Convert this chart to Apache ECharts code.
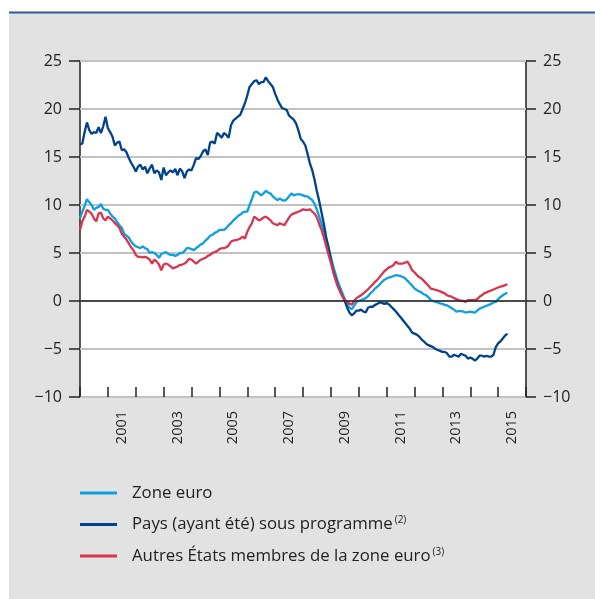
<!DOCTYPE html>
<html>
<head>
<meta charset="utf-8">
<script src="https://cdn.jsdelivr.net/npm/echarts@6/dist/echarts.min.js"></script>
<style>
  html, body { margin: 0; padding: 0; background: #fff; }
  #chart { width: 595px; height: 599px; }
</style>
</head>
<body>
<div id="chart"></div>
<script>
// Années affichées sur l'axe des abscisses
const years = ['2000', '2001', '2002', '2003', '2004', '2005', '2006', '2007',
    '2008', '2009', '2010', '2011', '2012', '2013', '2014', '2015'];

// Séries mensuelles, de janvier 2000 à mai 2015
const zoneEuro = [
    8.6, 9.3, 9.9, 10.6, 10.3, 10.0, 9.5, 9.7, 9.8, 10.1, 9.6, 9.5,
    9.5, 9.1, 8.8, 8.6, 8.2, 7.9, 7.6, 7.0, 6.8, 6.6, 6.2, 5.9,
    5.7, 5.6, 5.5, 5.7, 5.5, 5.4, 5.0, 5.1, 5.0, 4.8, 4.5, 4.9,
    5.0, 5.1, 4.9, 4.8, 4.8, 4.7, 4.8, 5.0, 5.0, 5.2, 5.5, 5.5,
    5.4, 5.3, 5.5, 5.7, 5.9, 6.0, 6.3, 6.5, 6.8, 6.9, 7.1, 7.2,
    7.4, 7.4, 7.4, 7.6, 7.9, 8.1, 8.4, 8.6, 8.85, 9.0, 9.2, 9.3,
    9.3, 10.0, 10.6, 11.3, 11.4, 11.2, 11.0, 11.2, 11.5, 11.3, 11.2, 10.9,
    10.7, 10.5, 10.7, 10.5, 10.45, 10.6, 10.9, 11.2, 11.0, 11.1, 11.1, 11.1,
    11.0, 10.9, 10.9, 10.7, 10.5, 10.1, 9.5, 8.8, 8.0, 7.3, 6.4, 5.5,
    4.6, 3.6, 2.8, 2.0, 1.4, 0.8, 0.2, -0.3, -0.7, -0.85, -0.5, -0.1,
    0.0, 0.1, 0.2, 0.3, 0.5, 0.8, 1.0, 1.3, 1.5, 1.7, 2.0, 2.2,
    2.35, 2.45, 2.5, 2.6, 2.7, 2.65, 2.6, 2.5, 2.35, 2.1, 1.85, 1.6,
    1.3, 1.15, 1.0, 0.9, 0.7, 0.6, 0.4, 0.1, 0.0, -0.1, -0.15, -0.25,
    -0.3, -0.4, -0.45, -0.6, -0.75, -0.9, -1.1, -1.05, -1.05, -1.1, -1.2, -1.15,
    -1.1, -1.15, -1.2, -1.0, -0.8, -0.7, -0.6, -0.5, -0.4, -0.3, -0.15, -0.1,
    0.2, 0.4, 0.6, 0.75, 0.85
];

const paysProgramme = [
    16.3, 16.4, 17.6, 18.6, 17.8, 17.4, 17.6, 17.5, 18.1, 17.5, 18.2, 19.2,
    18.0, 17.6, 17.1, 16.2, 16.5, 16.6, 15.7, 15.8, 15.5, 14.9, 14.4, 14.0,
    13.5, 14.0, 14.2, 13.7, 14.0, 13.3, 13.8, 14.2, 13.3, 13.6, 13.4, 12.6,
    13.9, 13.1, 13.4, 13.6, 13.4, 13.75, 13.1, 13.8, 13.5, 12.8, 13.5, 13.7,
    13.6, 14.2, 14.9, 14.8, 15.1, 15.6, 15.8, 15.2, 16.5, 16.6, 16.4, 17.5,
    17.3, 17.0, 17.5, 17.3, 17.0, 18.3, 18.8, 19.0, 19.2, 19.4, 20.0, 20.6,
    21.4, 22.3, 22.6, 22.9, 23.0, 22.6, 22.8, 22.8, 23.3, 22.9, 22.6, 22.3,
    21.6, 21.0, 20.5, 20.1, 20.0, 19.9, 19.3, 19.1, 18.9, 18.5, 17.8, 16.9,
    16.6, 16.2, 15.3, 14.3, 13.6, 12.6, 11.4, 10.4, 9.2, 8.0, 6.6, 5.6,
    4.3, 3.2, 2.4, 1.6, 1.0, 0.5, 0.0, -0.7, -1.2, -1.5, -1.3, -1.0,
    -1.0, -0.9, -1.1, -1.2, -0.7, -0.6, -0.6, -0.4, -0.3, -0.15, -0.2, -0.3,
    -0.2, -0.35, -0.6, -0.85, -1.1, -1.4, -1.7, -2.0, -2.3, -2.6, -2.9, -3.3,
    -3.4, -3.5, -3.7, -4.0, -4.2, -4.45, -4.6, -4.7, -4.8, -5.0, -5.1, -5.2,
    -5.3, -5.3, -5.45, -5.8, -5.8, -5.6, -5.7, -5.8, -5.5, -5.6, -5.7, -6.0,
    -5.9, -6.0, -6.2, -6.0, -5.7, -5.7, -5.8, -5.7, -5.8, -5.8, -5.6, -4.8,
    -4.4, -4.2, -3.9, -3.6, -3.4
];

const autresEtats = [
    7.4, 8.3, 8.8, 9.5, 9.3, 9.1, 8.6, 8.3, 9.1, 9.2, 8.6, 8.4,
    8.8, 8.6, 8.4, 8.1, 7.9, 7.6, 7.0, 6.7, 6.4, 6.0, 5.6, 5.3,
    4.8, 4.6, 4.6, 4.55, 4.6, 4.5, 4.3, 3.9, 4.3, 4.1, 3.8, 3.2,
    3.8, 3.9, 3.8, 3.6, 3.4, 3.5, 3.6, 3.75, 3.8, 3.9, 4.1, 4.4,
    4.3, 4.1, 3.9, 4.1, 4.3, 4.4, 4.5, 4.7, 4.8, 5.0, 5.1, 5.2,
    5.4, 5.5, 5.5, 5.6, 5.8, 6.2, 6.3, 6.35, 6.4, 6.5, 6.7, 6.5,
    7.2, 7.7, 8.1, 8.8, 8.6, 8.4, 8.5, 8.7, 8.8, 8.6, 8.4, 8.1,
    8.0, 7.9, 8.1, 8.0, 7.9, 8.3, 8.7, 9.0, 9.1, 9.2, 9.3, 9.4,
    9.55, 9.5, 9.5, 9.55, 9.3, 9.1, 8.7, 8.0, 7.4, 6.6, 5.7, 4.8,
    4.0, 3.0, 2.2, 1.5, 1.0, 0.5, 0.1, -0.1, -0.25, -0.4, 0.0, 0.3,
    0.45, 0.6, 0.8, 1.0, 1.2, 1.5, 1.7, 2.0, 2.2, 2.5, 2.8, 3.1,
    3.3, 3.5, 3.6, 3.75, 4.1, 3.9, 3.9, 3.9, 4.0, 4.1, 3.7, 3.2,
    3.0, 2.7, 2.5, 2.35, 2.1, 1.85, 1.6, 1.3, 1.25, 1.15, 1.1, 1.0,
    0.9, 0.8, 0.6, 0.5, 0.45, 0.3, 0.2, 0.1, 0.05, 0.0, -0.1, 0.1,
    0.1, 0.1, 0.1, 0.2, 0.45, 0.6, 0.8, 0.9, 1.0, 1.1, 1.2, 1.3,
    1.4, 1.5, 1.55, 1.65, 1.75
];

const seriesNames = [
    'Zone euro',
    'Pays (ayant été) sous programme',
    'Autres États membres de la zone euro'
];
const seriesNotes = ['', '(2)', '(3)'];

// Couleurs
const couleurs = ['#0d9fdf', '#00438c', '#d9354f'];
const fontFamily = '"Open Sans", "Noto Sans", sans-serif';

// position mensuelle en années décimales
function toPoints(values) {
    return values.map((v, i) => [2000 + i / 12, v]);
}

function minus(v) {
    return String(v).replace('-', '\u2212');
}

const chart = echarts.init(document.getElementById('chart'), null, { renderer: 'canvas' });

const option = {
    backgroundColor: '#fff',
    animation: false,
    textStyle: { fontFamily: fontFamily },
    graphic: [
        {
            type: 'rect',
            z: -10,
            shape: { x: 9, y: 13, width: 586, height: 586 },
            style: { fill: '#e2e2e2' }
        },
        {
            type: 'line',
            z: -9,
            shape: { x1: 9, y1: 12.5, x2: 595, y2: 12.5 },
            style: { stroke: '#2a5b9c', lineWidth: 2 }
        }
    ],
    grid: {
        left: 80,
        right: 69,
        top: 61,
        bottom: 202,
        show: true,
        backgroundColor: '#fff',
        borderColor: '#222',
        borderWidth: 1.5
    },
    legend: {
        orient: 'vertical',
        left: 80,
        top: 483,
        padding: 0,
        itemWidth: 37,
        itemHeight: 3,
        itemGap: 11.5,
        icon: 'rect',
        data: seriesNames,
        formatter: function (name) {
            const idx = seriesNames.indexOf(name);
            return seriesNotes[idx] ? name + '{sup|' + seriesNotes[idx] + '}' : name;
        },
        textStyle: {
            fontFamily: fontFamily,
            fontSize: 16.8,
            color: '#222',
            lineHeight: 20,
            padding: [0, 0, 0, 10],
            rich: {
                sup: {
                    fontFamily: fontFamily,
                    fontSize: 10,
                    color: '#222',
                    padding: [0, 0, 8, 2]
                }
            }
        }
    },
    xAxis: [
        {
            type: 'category',
            data: years,
            boundaryGap: true,
            axisLine: { show: false, onZero: false },
            axisTick: {
                show: true,
                inside: true,
                length: 10,
                interval: 0,
                lineStyle: { color: '#222', width: 1.5 }
            },
            axisLabel: {
                rotate: 90,
                margin: 14,
                fontSize: 14.5,
                color: '#222',
                interval: function (index) { return index % 2 === 1; }
            },
            splitLine: { show: false }
        },
        {
            type: 'value',
            min: 2000,
            max: 2016,
            show: false,
            axisLine: { onZero: false },
            splitLine: { show: false }
        }
    ],
    yAxis: [
        {
            type: 'value',
            position: 'left',
            min: -10,
            max: 25,
            interval: 5,
            axisLine: { show: false, onZero: false },
            axisTick: { show: true, length: 11, lineStyle: { color: '#222', width: 1.5 } },
            axisLabel: { margin: 18, fontSize: 16, color: '#222', formatter: minus },
            splitLine: { show: true, lineStyle: { color: '#c2c2c2', width: 2 } }
        },
        {
            type: 'value',
            position: 'right',
            min: -10,
            max: 25,
            interval: 5,
            axisLine: { show: false, onZero: false },
            axisTick: { show: true, length: 10, lineStyle: { color: '#222', width: 1.5 } },
            axisLabel: { margin: 17, fontSize: 16, color: '#222', formatter: minus },
            splitLine: { show: false }
        }
    ],
    series: [
        {
            name: seriesNames[0],
            type: 'line',
            xAxisIndex: 1,
            yAxisIndex: 0,
            data: toPoints(zoneEuro),
            showSymbol: false,
            lineStyle: { color: couleurs[0], width: 2.3 },
            itemStyle: { color: couleurs[0] },
            markLine: {
                silent: true,
                symbol: 'none',
                label: { show: false },
                lineStyle: { color: '#222', width: 1.5, type: 'solid' },
                data: [{ yAxis: 0 }]
            }
        },
        {
            name: seriesNames[1],
            type: 'line',
            xAxisIndex: 1,
            yAxisIndex: 0,
            data: toPoints(paysProgramme),
            showSymbol: false,
            lineStyle: { color: couleurs[1], width: 2.3 },
            itemStyle: { color: couleurs[1] }
        },
        {
            name: seriesNames[2],
            type: 'line',
            xAxisIndex: 1,
            yAxisIndex: 0,
            data: toPoints(autresEtats),
            showSymbol: false,
            lineStyle: { color: couleurs[2], width: 2.3 },
            itemStyle: { color: couleurs[2] }
        }
    ]
};

chart.setOption(option);
</script>
</body>
</html>
